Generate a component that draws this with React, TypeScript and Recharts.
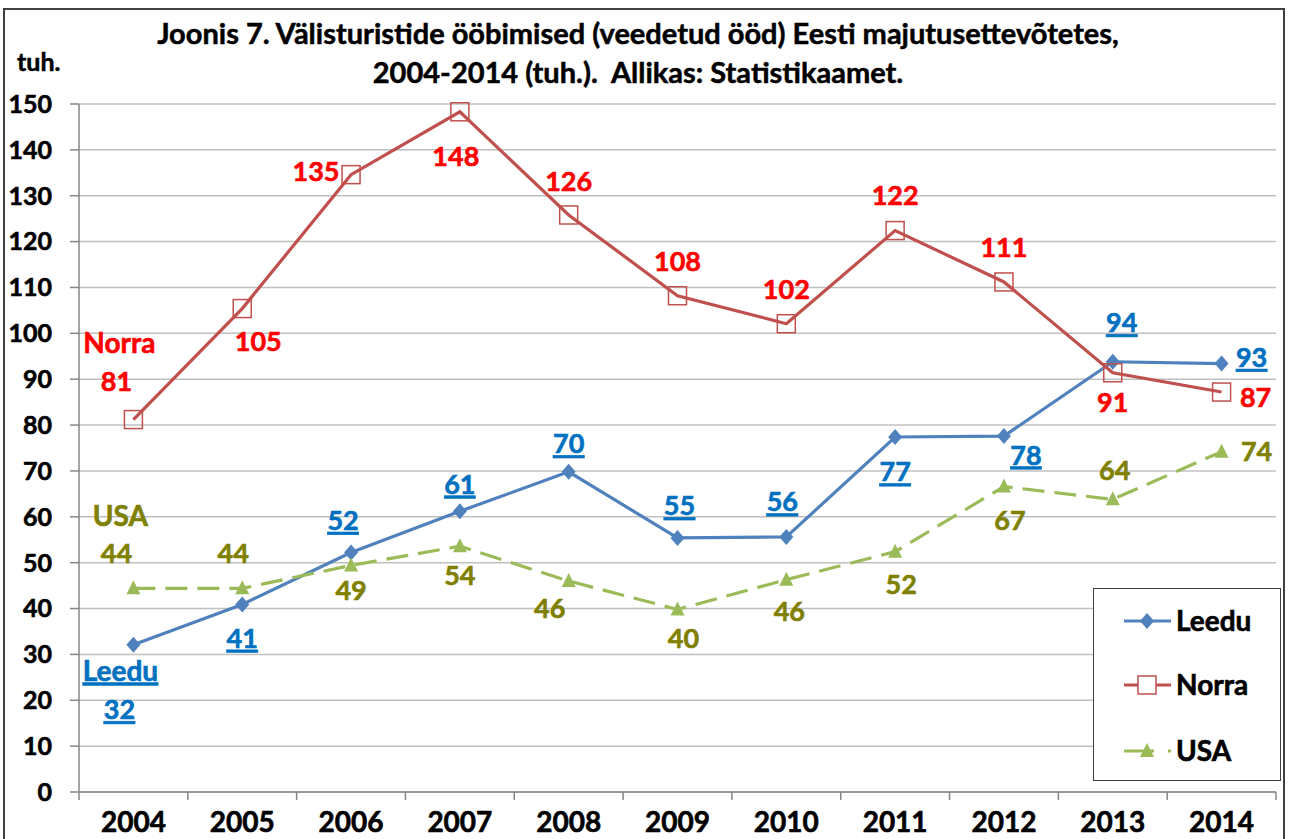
import React from 'react';
import { LineChart, Line, XAxis, YAxis, CartesianGrid, Legend } from 'recharts';

const years = ['2004', '2005', '2006', '2007', '2008', '2009', '2010', '2011', '2012', '2013', '2014'];
const leedu = [32.1, 40.9, 52.2, 61.2, 69.8, 55.4, 55.6, 77.4, 77.6, 93.8, 93.4];
const norra = [81.2, 105.4, 134.6, 148.3, 125.8, 108.2, 102.1, 122.4, 111.2, 91.4, 87.2];
const usa = [44.4, 44.4, 49.4, 53.6, 46.0, 39.8, 46.3, 52.4, 66.6, 63.8, 74.2];
const yTicks = [0, 10, 20, 30, 40, 50, 60, 70, 80, 90, 100, 110, 120, 130, 140, 150];

const titleLines = [
  'Joonis 7. Välisturistide ööbimised (veedetud ööd) Eesti majutusettevõtetes,',
  '2004-2014 (tuh.).  Allikas: Statistikaamet.',
];

// label placement (dx, dy from point to text centre) – styling only
const leeduShift = [[-14, 65], [0, 34], [-8, -32], [0, -27], [0, -28], [2, -32], [-4, -35], [0, 35], [22, 19], [9, -39], [30, -6]];
const norraShift = [[-17, -38], [16, 33], [-35, -3], [-4, 45], [0, -33], [0, -34], [0, -34], [0, -35], [0, -34], [0, 30], [34, 6]];
const usaShift = [[-17, -35], [-9, -35], [0, 25], [0, 29], [-19, 28], [6, 29], [3, 32], [6, 33], [6, 34], [2, -29], [35, 0]];

const data = years.map((year, i) => ({ year, Leedu: leedu[i], Norra: norra[i], USA: usa[i] }));

const W = 1292;
const H = 839;
const PLOT_LEFT = 79;
const PLOT_RIGHT = 1276;
const PLOT_TOP = 104;
const PLOT_BOTTOM = 792;
const HALF_BAND = (PLOT_RIGHT - PLOT_LEFT) / years.length / 2;
const FONT = 'Lato, "Open Sans", sans-serif';
const AXIS = '#868686';

const BLUE = '#4F81BD';
const RED = '#C0504D';
const GREEN = '#9BBB59';

// a thin stroke makes Lato bold look closer to the heavier original face
const heavy = (color: string) => ({ stroke: color, strokeWidth: 0.6, paintOrder: 'stroke' as const });

function makeLabel(shift: number[][], color: string, underline: boolean, name: string, nameShift: number[]) {
  return (props: any) => {
    const { x, y, index, value } = props;
    const [dx, dy] = shift[index];
    const style: any = { fontFamily: FONT, fontWeight: 700, fontSize: 27, fill: color, ...heavy(color) };
    if (underline) style.textDecoration = 'underline';
    return (
      <g key={`lbl-${name}-${index}`}>
        {index === 0 && (
          <text x={x + nameShift[0]} y={y + nameShift[1]} dy="0.35em" textAnchor="middle" style={{ ...style, fontSize: 28 }}>
            {name}
          </text>
        )}
        <text x={x + dx} y={y + dy} dy="0.35em" textAnchor="middle" style={style}>
          {Math.round(value)}
        </text>
      </g>
    );
  };
}

const Diamond = (props: any) => {
  const { cx, cy, index } = props;
  return <polygon key={`d-${index}`} points={`${cx},${cy - 8} ${cx + 7},${cy} ${cx},${cy + 8} ${cx - 7},${cy}`} fill={BLUE} />;
};
const Square = (props: any) => {
  const { cx, cy, index } = props;
  return <rect key={`s-${index}`} x={cx - 9} y={cy - 9} width={18} height={18} fill="none" stroke={RED} strokeWidth={1.5} />;
};
const Triangle = (props: any) => {
  const { cx, cy, index } = props;
  return <polygon key={`t-${index}`} points={`${cx},${cy - 8} ${cx + 7},${cy + 6} ${cx - 7},${cy + 6}`} fill={GREEN} />;
};

const XTick = (props: any) => {
  const { x, y, payload, index } = props;
  const ay = PLOT_BOTTOM;
  return (
    <g>
      <line x1={x - HALF_BAND} y1={ay} x2={x - HALF_BAND} y2={ay + 8} stroke={AXIS} strokeWidth={1.5} />
      {index === years.length - 1 && (
        <line x1={x + HALF_BAND} y1={ay} x2={x + HALF_BAND} y2={ay + 8} stroke={AXIS} strokeWidth={1.5} />
      )}
      <text x={x} y={y + 22} dy="0.35em" textAnchor="middle" style={{ fontFamily: FONT, fontWeight: 700, fontSize: 28, fill: '#000', ...heavy('#000') }}>
        {payload.value}
      </text>
    </g>
  );
};

const renderLegend = () => {
  const rows = [
    { name: 'Leedu', color: BLUE, y: 32, dash: undefined as string | undefined, mark: 'd' },
    { name: 'Norra', color: RED, y: 96, dash: undefined, mark: 's' },
    { name: 'USA', color: GREEN, y: 162, dash: '30 14', mark: 't' },
  ];
  return (
    <svg width={186} height={191} style={{ display: 'block' }}>
      {rows.map((r) => (
        <g key={r.name}>
          <line x1={30} y1={r.y} x2={77} y2={r.y} stroke={r.color} strokeWidth={3} strokeDasharray={r.dash} />
          {r.mark === 'd' && <polygon points={`53,${r.y - 8} 60,${r.y} 53,${r.y + 8} 46,${r.y}`} fill={BLUE} />}
          {r.mark === 's' && <rect x={44} y={r.y - 9} width={18} height={18} fill="#fff" stroke={RED} strokeWidth={1.5} />}
          {r.mark === 't' && <polygon points={`53,${r.y - 8} 60,${r.y + 6} 46,${r.y + 6}`} fill={GREEN} />}
          <text x={82} y={r.y} dy="0.35em" style={{ fontFamily: FONT, fontWeight: 700, fontSize: 28, fill: '#000', ...heavy('#000') }}>
            {r.name}
          </text>
        </g>
      ))}
    </svg>
  );
};

export default function App() {
  return (
    <div style={{ position: 'absolute', left: 0, top: 0, width: W, height: H, overflow: 'hidden', background: '#fff' }}>
      <div style={{ position: 'absolute', left: 3, top: 8, width: 1282, height: 900, border: '2px solid #404040', boxSizing: 'border-box' }} />
      {titleLines.map((t, i) => (
        <div
          key={i}
          style={{
            position: 'absolute', left: 0, width: 1276, top: 16 + i * 39, textAlign: 'center',
            fontFamily: FONT, fontWeight: 700, fontSize: 29, lineHeight: '34px', color: '#000', whiteSpace: 'pre',
            WebkitTextStroke: '0.5px #000',
          }}
        >
          {t}
        </div>
      ))}
      <div style={{ position: 'absolute', left: 17, top: 46, fontFamily: FONT, fontWeight: 700, fontSize: 25, lineHeight: '30px', color: '#000', WebkitTextStroke: '0.5px #000' }}>
        tuh.
      </div>
      <div style={{ position: 'absolute', left: 0, top: 0 }}>
        <LineChart
          width={W}
          height={H}
          data={data}
          margin={{ top: PLOT_TOP, right: W - PLOT_RIGHT, left: PLOT_LEFT - 60, bottom: H - PLOT_BOTTOM - 40 }}
        >
          <CartesianGrid vertical={false} stroke="#C0C0C0" strokeWidth={1.5} />
          <XAxis
            dataKey="year"
            height={40}
            padding={{ left: HALF_BAND, right: HALF_BAND }}
            tickLine={false}
            axisLine={{ stroke: AXIS, strokeWidth: 1.5 }}
            tick={<XTick />}
            interval={0}
          />
          <YAxis
            width={60}
            domain={[0, 150]}
            ticks={yTicks}
            interval={0}
            tickSize={9}
            tickMargin={18}
            tickLine={{ stroke: AXIS, strokeWidth: 1.5 }}
            axisLine={{ stroke: AXIS, strokeWidth: 1.5 }}
            tick={{ fontFamily: FONT, fontWeight: 700, fontSize: 25, fill: '#000', stroke: '#000', strokeWidth: 0.6 }}
          />
          <Legend
            layout="vertical"
            align="center"
            verticalAlign="middle"
            content={renderLegend}
            wrapperStyle={{ left: 1093, top: 588, width: 188, height: 193, border: '1.5px solid #404040', background: '#fff', boxSizing: 'border-box' }}
          />
          <Line
            dataKey="Leedu"
            stroke={BLUE}
            strokeWidth={3.2}
            dot={<Diamond />}
            label={makeLabel(leeduShift, '#0070C0', true, 'Leedu', [-13, 26])}
            isAnimationActive={false}
          />
          <Line
            dataKey="Norra"
            stroke={RED}
            strokeWidth={3.2}
            dot={<Square />}
            label={makeLabel(norraShift, '#FF0000', false, 'Norra', [-14, -76])}
            isAnimationActive={false}
          />
          <Line
            dataKey="USA"
            stroke={GREEN}
            strokeWidth={3.2}
            strokeDasharray="22 10"
            dot={<Triangle />}
            label={makeLabel(usaShift, '#808000', false, 'USA', [-13, -72])}
            isAnimationActive={false}
          />
        </LineChart>
      </div>
    </div>
  );
}
